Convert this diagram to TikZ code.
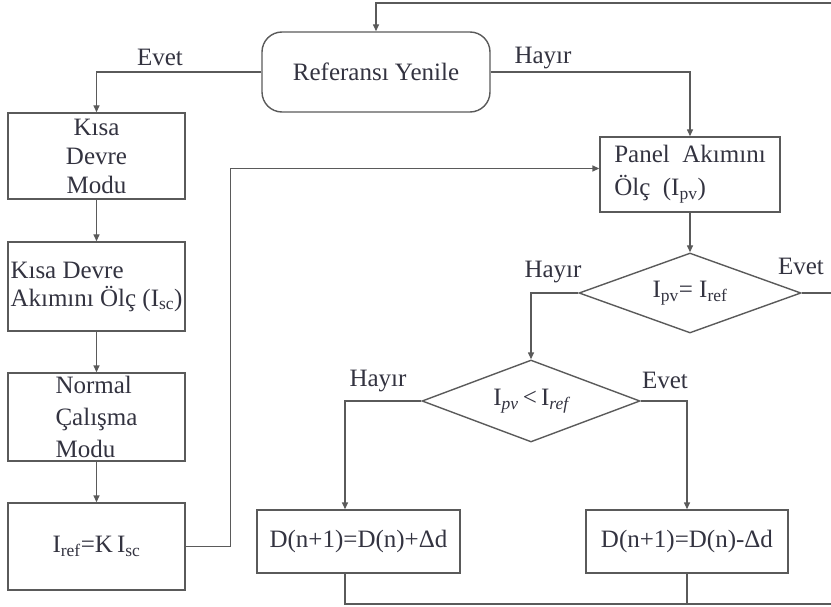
\documentclass[tikz,border=0pt]{standalone}
\usepackage{fontspec}
\setmainfont{Liberation Serif}
\usetikzlibrary{shapes.geometric,arrows.meta}
\definecolor{ln}{HTML}{5A5A5A}
\definecolor{tx}{HTML}{333340}
\begin{document}
\begin{tikzpicture}[x=1pt,y=-1pt,
  font=\fontsize{25}{30}\selectfont, text=tx,
  line width=1.4pt,
  box/.style={draw=ln, minimum width=177pt, inner sep=0pt},
  rbox/.style={draw=ln, rounded corners=20pt, minimum width=228pt, minimum height=80pt, inner sep=0pt},
  dia/.style={draw=ln, diamond, aspect=2.7, inner sep=0pt},
  arr/.style={draw=ln, -{Triangle[length=7pt,width=6pt]}},
  conn/.style={draw=ln},
  lbl/.style={inner sep=0pt}]
\useasboundingbox (0,0) rectangle (831,607);
\clip (0,0) rectangle (831,607);

\node[rbox] (ref) at (376,72) {Referansı Yenile};
\node[box, minimum height=86pt, align=center, font=\fontsize{25}{29}\selectfont] (k1) at (96.5,156) {Kısa\\Devre\\Modu};
\node[box, minimum height=89pt, align=left, font=\fontsize{25}{28}\selectfont] (k2) at (96.5,286.5) {Kısa Devre\\Akımını Ölç (I\textsubscript{sc})};
\node[box, minimum height=88pt, align=left, font=\fontsize{25}{32}\selectfont] (k3) at (96.5,417) {Normal\\Çalışma\\Modu};
\node[box, minimum height=87pt] (k4) at (96.5,546.5) {I\textsubscript{ref}=K\,I\textsubscript{sc}};
\node[box, minimum width=180pt, minimum height=75pt, align=left, font=\fontsize{25}{33}\selectfont] (pan) at (690,174.5) {Panel\ \ Akımını\\Ölç\ \ (I\textsubscript{pv})};
\node[dia, minimum width=222pt, minimum height=80pt] (d1) at (690,293) {I\textsubscript{pv}= I\textsubscript{ref}};
\node[dia, minimum width=218pt, minimum height=82pt] (d2) at (531,401) {I\textsubscript{\itshape pv}\,<\,I\textsubscript{\itshape ref}};
\node[box, minimum width=203pt, minimum height=63pt] (b1) at (358.5,541.5) {D(n+1)=D(n)+Δd};
\node[box, minimum width=202pt, minimum height=63pt] (b2) at (687,541.5) {D(n+1)=D(n)-Δd};

\coordinate (re) at (840,293);
\coordinate (br) at (840,604);
\coordinate (tr) at (840,3);

\draw[arr] (ref.west) -| (k1.north);
\draw[arr] (ref.east) -| (pan.north);
\draw[arr] (k1.south) -- (k2.north);
\draw[arr] (k2.south) -- (k3.north);
\draw[arr] (k3.south) -- (k4.north);
\draw[arr] (k4.east) -- ++(45,0) |- ([yshift=6pt]pan.west);
\draw[arr] (pan.south) -- (d1.north);
\draw[arr] (d1.west) -| (d2.north);
\draw[arr] (d2.west) -| ([xshift=-13.5pt]b1.north);
\draw[arr] (d2.east) -| (b2.north);
\draw[conn] (d1.east) -- (re);
\draw[arr] ([xshift=-13.5pt]b1.south) |- (br) -- (tr) -| (ref.north);
\draw[conn] (b2.south) -- (b2.south |- br);

\node[lbl] (l1) at (160,57) {Evet};
\node[lbl] (l2) at (543,58) {Hayır};
\node[lbl] (l3) at (553,272) {Hayır};
\node[lbl] (l4) at (801,266) {Evet};
\node[lbl] (l5) at (378,381) {Hayır};
\node[lbl] (l6) at (665,380) {Evet};
\end{tikzpicture}
\end{document}
